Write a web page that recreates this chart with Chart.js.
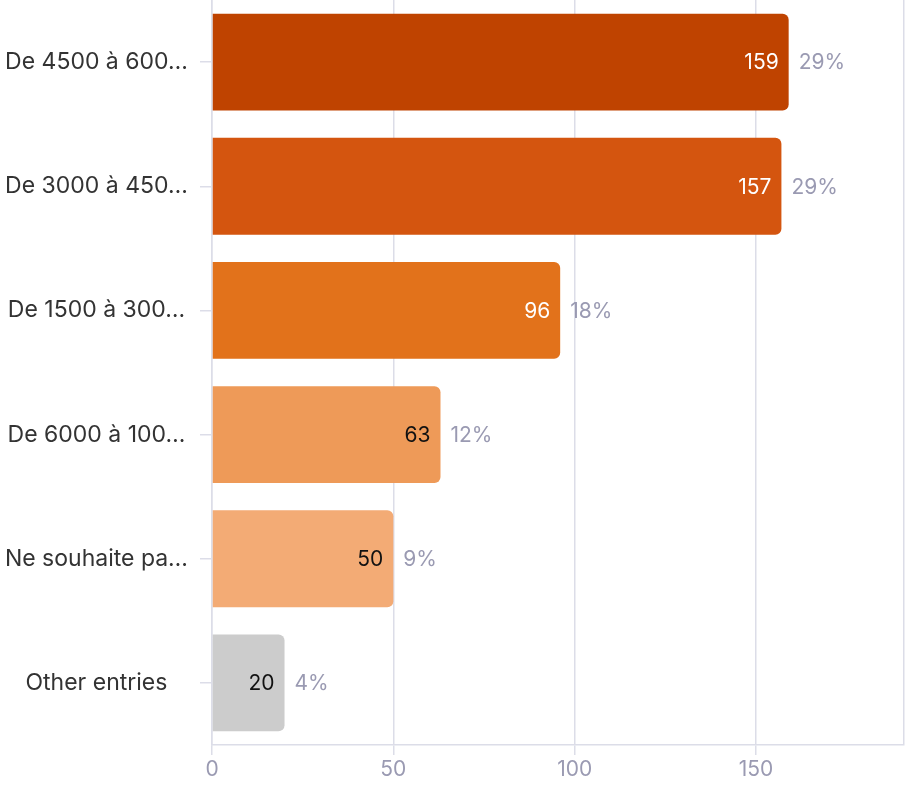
<!DOCTYPE html>
<html>
<head>
<meta charset="utf-8">
<script src="https://cdn.jsdelivr.net/npm/chart.js@4"></script>
<style>
  html, body { margin: 0; padding: 0; background: #fff; }
  #wrap { width: 906px; height: 786px; }
</style>
</head>
<body>
<div id="wrap"><canvas id="chart" width="906" height="786"></canvas></div>
<script>
const labels = ["De 4500 à 600…", "De 3000 à 450…", "De 1500 à 300…", "De 6000 à 100…", "Ne souhaite pa…", "Other entries"];
const counts = [159, 157, 96, 63, 50, 20];
const shares = ["29%", "29%", "18%", "12%", "9%", "4%"];
const colors = ["#bf4300", "#d4550f", "#e2721b", "#ee9a58", "#f3ab75", "#cccccc"];
const valueColors = ["#ffffff", "#ffffff", "#ffffff", "#111111", "#111111", "#111111"];
const xTicks = [0, 50, 100, 150];

const FONT = "Inter, 'Noto Sans', sans-serif";
const GRID = "#dcdde8";
const MUTED = "#9a9ab2";

const barLabels = {
  id: "barLabels",
  afterDatasetsDraw(chart) {
    const ctx = chart.ctx;
    const meta = chart.getDatasetMeta(0);
    ctx.save();
    ctx.font = "21px " + FONT;
    ctx.textBaseline = "middle";
    meta.data.forEach((bar, i) => {
      ctx.fillStyle = valueColors[i];
      ctx.textAlign = "right";
      ctx.fillText(String(counts[i]), bar.x - 10, bar.y + 1);
      ctx.fillStyle = MUTED;
      ctx.textAlign = "left";
      ctx.fillText(shares[i], bar.x + 10, bar.y + 1);
    });
    ctx.restore();
  }
};

new Chart(document.getElementById("chart"), {
  type: "bar",
  data: {
    labels: labels,
    datasets: [{
      data: counts,
      backgroundColor: colors,
      borderRadius: 6,
      borderSkipped: "start",
      categoryPercentage: 1,
      barPercentage: 0.78,
    }],
  },
  options: {
    indexAxis: "y",
    responsive: false,
    animation: false,
    layout: { padding: { top: 0, right: 2, bottom: 0, left: 0 } },
    plugins: { legend: { display: false }, tooltip: { enabled: false } },
    scales: {
      x: {
        min: 0,
        max: 190.8,
        afterBuildTicks: (s) => { s.ticks = xTicks.map(v => ({ value: v })).concat([{ value: 190.8 }]); },
        grid: {
          color: GRID,
          lineWidth: 1.5,
          tickLength: 10,
          tickColor: (c) => (c.tick && c.tick.value % 50 ? "rgba(0,0,0,0)" : GRID),
        },
        border: { color: GRID, width: 1.5 },
        ticks: {
          color: MUTED,
          font: { family: FONT, size: 21 },
          padding: 2,
          callback: (v) => (v % 50 ? "" : v),
        },
        afterFit: (s) => { s.height = 41; s.paddingLeft = 0; s.paddingRight = 0; },
      },
      y: {
        grid: { drawOnChartArea: false, offset: false, color: GRID, lineWidth: 1.5, tickLength: 12 },
        border: { color: GRID, width: 1.5 },
        ticks: {
          color: "#333333",
          font: { family: FONT, size: 23 },
          padding: 12,
          crossAlign: "center",
        },
        afterFit: (s) => { s.width = 212; s.paddingTop = 0; s.paddingBottom = 0; },
      },
    },
  },
  plugins: [barLabels],
});
</script>
</body>
</html>
